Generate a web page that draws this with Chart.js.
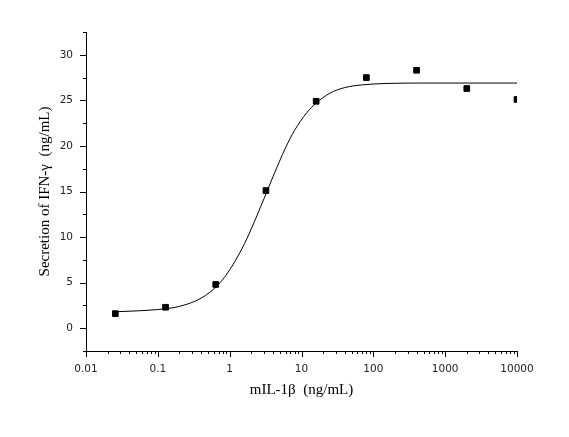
<!DOCTYPE html>
<html><head><meta charset="utf-8">
<script src="https://cdn.jsdelivr.net/npm/chart.js@4/dist/chart.umd.min.js"></script>
<style>html,body{margin:0;padding:0;background:#fff}#w{width:569px;height:437px}</style>
</head><body><div id="w"><canvas id="c"></canvas></div>
<script>
const doseX = [0.0256, 0.128, 0.64, 3.2, 16, 80, 400, 2000, 10000];
const secretionY = [1.6, 2.3, 4.8, 15.1, 24.9, 27.5, 28.3, 26.3, 25.1];
const fitX = [0.025,0.05,0.1,0.2,0.4,0.7,1,1.5,2,3,4,6,8,12,16,25,40,70,150,500,10000];
const fitY = [1.8,1.9,2.05,2.4,3.3,4.8,6.4,8.8,10.9,14.2,16.6,19.8,21.7,23.7,24.7,25.8,26.4,26.7,26.85,26.9,26.9];
const xTicks = [0.01,0.1,1,10,100,1000,10000];
const xTickLabels = ['0.01','0.1','1','10','100','1000','10000'];
const yTicks = [0,5,10,15,20,25,30];

const tickPlugin = {
  id:'ticks',
  afterDraw(ch){
    const c=ch.ctx, x=ch.scales.x, y=ch.scales.y, a=ch.chartArea;
    c.save(); c.strokeStyle='#000'; c.lineWidth=1; c.beginPath();
    for(const d of xTicks){
      const p=Math.round(x.getPixelForValue(d))+0.5;
      c.moveTo(p,a.bottom); c.lineTo(p,a.bottom+6);
      if(d<10000) for(let k=2;k<=9;k++){const q=Math.round(x.getPixelForValue(d*k))+0.5;c.moveTo(q,a.bottom);c.lineTo(q,a.bottom+3);}
    }
    for(let v=-2.5;v<=32.5;v+=2.5){
      const p=Math.round(y.getPixelForValue(v))+0.5;
      const major=yTicks.includes(v);
      c.moveTo(a.left,p); c.lineTo(a.left-(major?6:3),p);
    }
    c.stroke(); c.restore();
  }
};

new Chart(document.getElementById('c'),{
  data:{datasets:[
    {type:'line',data:fitX.map((v,i)=>({x:v,y:fitY[i]})),borderColor:'#000',borderWidth:1,pointRadius:0,cubicInterpolationMode:'monotone',fill:false},
    {type:'scatter',data:doseX.map((v,i)=>({x:v,y:secretionY[i]})),pointStyle:'rect',pointRadius:4,backgroundColor:'#000',borderColor:'#000'}
  ]},
  options:{
    responsive:true,maintainAspectRatio:false,animation:false,
    layout:{padding:{top:32,right:52,left:32,bottom:34}},
    plugins:{legend:{display:false},tooltip:{enabled:false}},
    scales:{
      x:{type:'logarithmic',min:0.01,max:10000,
        afterBuildTicks(s){s.ticks=xTicks.map(v=>({value:v}));},
        afterFit(s){s.height=52;},
        grid:{display:false,drawTicks:false},border:{display:true,color:'#000',width:1},
        ticks:{padding:12,maxRotation:0,autoSkip:false,color:'#222',font:{family:'DejaVu Sans',size:10.5},
          callback:(v)=>{const i=xTicks.indexOf(v);return i>=0?xTickLabels[i]:'';}},
        title:{display:true,text:'mIL-1β  (ng/mL)',color:'#000',font:{family:'Liberation Serif',size:15},padding:{top:4}}
      },
      y:{min:-2.5,max:32.5,
        afterBuildTicks(s){s.ticks=yTicks.map(v=>({value:v}));},
        afterFit(s){s.width=54;},
        grid:{display:false,drawTicks:false},border:{display:true,color:'#000',width:1},
        ticks:{padding:13,color:'#222',font:{family:'DejaVu Sans',size:10.5}},
        title:{display:true,text:'Secretion of IFN-γ  (ng/mL)',color:'#000',font:{family:'Liberation Serif',size:15},padding:{bottom:4}}
      }
    }
  },
  plugins:[tickPlugin]
});
</script></body></html>
